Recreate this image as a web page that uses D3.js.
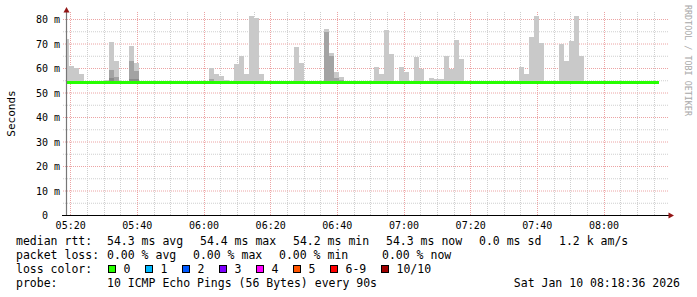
<html><head>
  <script src="https://d3js.org/d3.v7.min.js"></script>
</head>
<body>
<style>
  body { margin: 0; background: #ffffff; }
  text { font-family: 'DejaVu Sans Mono', monospace; fill: #000; }
</style>
<script>
// 90s steps, first (partial) step starts at 05:18:00
const firstBin = "05:18:00"
const stepSeconds = 90

// median rtt per step, ms (119 steps)
const medianRtt = [
  54.3, 54.3, 54.3, 54.3, 54.2, 54.3, 54.3, 54.2, 54.3, 54.3,
  54.3, 54.2, 54.3, 54.3, 54.3, 54.2, 54.3, 54.3, 54.3, 54.3,
  54.3, 54.3, 54.3, 54.3, 54.3, 54.3, 54.3, 54.3, 54.3, 54.4,
  54.3, 54.3, 54.3, 54.3, 54.3, 54.2, 54.3, 54.3, 54.3, 54.3,
  54.3, 54.3, 54.2, 54.3, 54.3, 54.3, 54.3, 54.3, 54.3, 54.2,
  54.3, 54.3, 54.3, 54.3, 54.3, 54.3, 54.3, 54.3, 54.2, 54.3,
  54.3, 54.3, 54.3, 54.3, 54.3, 54.3, 54.3, 54.3, 54.3, 54.3,
  54.3, 54.3, 54.3, 54.3, 54.3, 54.3, 54.3, 54.3, 54.3, 54.3,
  54.3, 54.2, 54.3, 54.3, 54.3, 54.3, 54.3, 54.2, 54.3, 54.3,
  54.3, 54.3, 54.3, 54.3, 54.3, 54.3, 54.3, 54.3, 54.3, 54.3,
  54.3, 54.3, 54.3, 54.3, 54.3, 54.3, 54.3, 54.3, 54.3, 54.3,
  54.3, 54.2, 54.3, 54.3, 54.3, 54.3, 54.4, 54.3, 54.3
]

// smoke: steps where the 10 pings spread above the median (ms)
const smokeTimes = ["05:18:00","05:19:30","05:21:00","05:22:30","05:30:00","05:31:30","05:33:00","05:37:30","05:39:00",
  "06:01:30","06:03:00","06:04:30","06:06:00","06:09:00","06:10:30","06:12:00","06:13:30","06:15:00","06:16:30",
  "06:27:00","06:28:30","06:36:00","06:37:30","06:39:00","06:40:30",
  "06:51:00","06:52:30","06:54:00","06:55:30","06:58:30","07:00:00","07:03:00","07:04:30",
  "07:07:30","07:09:00","07:10:30","07:12:00","07:13:30","07:15:00","07:16:30",
  "07:34:30","07:36:00","07:37:30","07:39:00","07:40:30","07:46:30","07:48:00","07:49:30","07:51:00","07:52:30"]
const smokeMax = [72.0, 61.2, 60.4, 57.6, 55.2, 71.0, 62.9, 69.0, 62.2,
  60.4, 57.6, 57.1, 55.5, 62.0, 64.9, 57.6, 81.6, 80.8, 57.6,
  68.6, 62.4, 76.3, 66.5, 58.4, 56.7,
  60.8, 57.6, 75.9, 66.1, 60.8, 58.4, 64.5, 59.6,
  56.3, 55.9, 55.9, 65.3, 60.0, 71.8, 63.7,
  60.8, 57.6, 72.7, 81.6, 70.6, 70.2, 62.9, 71.4, 81.6, 64.9]
const smokeMid = [null, null, null, null, null, 59.2, 56.7, 62.9, 58.8,
  55.9, null, null, null, null, null, null, null, null, null,
  null, null, 74.7, 65.3, 56.3, 55.5,
  null, null, null, null, null, null, null, null,
  null, null, null, null, null, null, null,
  null, null, null, null, null, null, null, null, null, null]
const smokeDark = [null, null, null, null, null, 56.2, null, 55.9, 55.6,
  null, null, null, null, null, null, null, null, null, null,
  null, null, null, null, null, null,
  null, null, null, null, null, null, null, null,
  null, null, null, null, null, null, null,
  null, null, null, null, null, null, null, null, null, null]

const rttStats = ["54.3 ms avg", "54.4 ms max", "54.2 ms min", "54.3 ms now", "0.0 ms sd", "1.2 k am/s"]
const lossStats = ["0.00 % avg", "0.00 % max", "0.00 % min", "0.00 % now"]
const lossLabels = ["0", "1", "2", "3", "4", "5", "6-9", "10/10"]
const lossColors = ["#26ff00", "#00b8ff", "#0059ff", "#7e00ff", "#ff00ff", "#ff5500", "#ff0000", "#a00000"]
const probeText = "10 ICMP Echo Pings (56 Bytes) every 90s"
const stampText = "Sat Jan 10 08:18:36 2026"

const svg = d3.select("body").append("svg")
  .attr("width", 697).attr("height", 297)

const parseTime = d3.utcParse("%H:%M:%S")
const x = d3.scaleUtc().domain([parseTime("05:18:54"), parseTime("08:18:54")]).range([67, 667])
const y = d3.scaleLinear().domain([0, 80]).range([215.5, 19.5])
const crisp = v => Math.round(v - 0.5) + 0.5

// grid
const grid = svg.append("g")
const minorX = x.ticks(d3.utcMinute.every(5)).filter(t => t.getUTCMinutes() % 20 != 0)
const majorX = x.ticks(d3.utcMinute.every(20))
grid.selectAll("line.mx").data(minorX).join("line")
  .attr("x1", d => crisp(x(d))).attr("x2", d => crisp(x(d)))
  .attr("y1", 215).attr("y2", 12)
  .attr("stroke", "#cfcfcf").attr("stroke-dasharray", "1,1")
grid.selectAll("line.my").data(d3.range(5, 80, 10)).join("line")
  .attr("x1", 63).attr("x2", 668)
  .attr("y1", d => y(d)).attr("y2", d => y(d))
  .attr("stroke", "#cfcfcf").attr("stroke-dasharray", "1,1")
grid.selectAll("line.Mx").data(majorX).join("line")
  .attr("x1", d => crisp(x(d))).attr("x2", d => crisp(x(d)))
  .attr("y1", 215).attr("y2", 12)
  .attr("stroke", "#eca4a4").attr("stroke-dasharray", "1,1")
grid.selectAll("line.My").data(d3.range(10, 81, 10)).join("line")
  .attr("x1", 63).attr("x2", 668)
  .attr("y1", d => y(d)).attr("y2", d => y(d))
  .attr("stroke", "#eca4a4").attr("stroke-dasharray", "1,1")

// plot area
svg.append("clipPath").attr("id", "plotclip")
  .append("rect").attr("x", 67).attr("y", 0).attr("width", 601).attr("height", 216)
const plot = svg.append("g").attr("clip-path", "url(#plotclip)")

const binStart = i => d3.utcSecond.offset(parseTime(firstBin), i * stepSeconds)
const smoke = smokeTimes.map((t, i) => {
  const start = parseTime(t)
  const idx = Math.round((start - parseTime(firstBin)) / 1000 / stepSeconds)
  return {start: start, end: d3.utcSecond.offset(start, stepSeconds), med: medianRtt[idx],
          max: smokeMax[i], mid: smokeMid[i], dark: smokeDark[i]}
})

function smokeLayer(key, color) {
  plot.selectAll("rect." + key).data(smoke.filter(d => d[key] != null)).join("rect")
    .attr("class", key)
    .attr("x", d => Math.round(x(d.start)))
    .attr("width", d => Math.round(x(d.end)) - Math.round(x(d.start)))
    .attr("y", d => Math.round(y(d[key])))
    .attr("height", d => Math.round(y(d.med)) - Math.round(y(d[key])))
    .attr("fill", color)
}
smokeLayer("max", "#c9c9c9")
smokeLayer("mid", "#a3a3a3")
smokeLayer("dark", "#8a8a8a")

// median line coloured by loss (all 0 here)
const medPts = medianRtt.map((v, i) => [binStart(i), v])
medPts.push([binStart(medianRtt.length), medianRtt[medianRtt.length - 1]])
plot.append("path").datum(medPts)
  .attr("fill", "none").attr("stroke", lossColors[0]).attr("stroke-width", 3)
  .attr("d", d3.line().x(d => Math.round(x(d[0]))).y(d => Math.floor(y(d[1])) + 0.5).curve(d3.curveStepAfter))

// axes
svg.append("line").attr("x1", 66.5).attr("x2", 66.5).attr("y1", 216).attr("y2", 11)
  .attr("stroke", "#777").attr("stroke-width", 1.2)
svg.append("line").attr("x1", 62).attr("x2", 669).attr("y1", 215.5).attr("y2", 215.5)
  .attr("stroke", "#000")
svg.append("path").attr("d", "M66.5,7L63.5,12.5L69.5,12.5Z").attr("fill", "#931515")
svg.append("path").attr("d", "M674,215.5L668.5,212.5L668.5,218.5Z").attr("fill", "#931515")

// y tick labels
svg.selectAll("text.ylab").data(d3.range(0, 81, 10)).join("text")
  .attr("class", "ylab")
  .attr("x", d => d == 0 ? 48 : 60).attr("y", d => y(d) + 3.5)
  .attr("text-anchor", "end").style("font-size", "10px")
  .text(d => d == 0 ? "0" : d + " m")

// x tick labels
svg.selectAll("text.xlab").data(majorX).join("text")
  .attr("class", "xlab")
  .attr("x", d => x(d)).attr("y", 228.5)
  .attr("text-anchor", "middle").style("font-size", "10px")
  .text(d3.utcFormat("%H:%M"))

svg.append("text")
  .attr("transform", "translate(15,113.5) rotate(-90)")
  .attr("text-anchor", "middle").style("font-size", "11px")
  .text("Seconds")

svg.append("text")
  .attr("transform", "translate(684.5,5) rotate(90)")
  .style("font-size", "8.4px").style("fill", "#a8a8a8")
  .text("RRDTOOL / TOBI OETIKER")

// legend
const legend = svg.append("g").style("font-size", "11.5px")
const rowY = [244.5, 258.5, 272.5, 286.5]
legend.append("text").attr("x", 16).attr("y", rowY[0]).text("median rtt:")
legend.selectAll("text.rtt").data(rttStats).join("text").attr("class", "rtt")
  .attr("x", (d, i) => [107, 200, 293, 386, 479, 559][i]).attr("y", rowY[0]).text(d => d)
legend.append("text").attr("x", 16).attr("y", rowY[1]).text("packet loss:")
legend.selectAll("text.loss").data(lossStats).join("text").attr("class", "loss")
  .attr("x", (d, i) => [107, 193, 279, 382][i]).attr("y", rowY[1]).text(d => d)
legend.append("text").attr("x", 16).attr("y", rowY[2]).text("loss color:")
const boxX = [108.5, 145.5, 182.5, 219.5, 256.5, 293.5, 330.5, 381.5]
legend.selectAll("rect.lc").data(lossColors).join("rect").attr("class", "lc")
  .attr("x", (d, i) => boxX[i]).attr("y", 265.5).attr("width", 7).attr("height", 7)
  .attr("fill", d => d).attr("stroke", "#000")
legend.selectAll("text.lcl").data(lossLabels).join("text").attr("class", "lcl")
  .attr("x", (d, i) => boxX[i] + 15).attr("y", rowY[2]).text(d => d)
legend.append("text").attr("x", 16).attr("y", rowY[3]).text("probe:")
legend.append("text").attr("x", 107).attr("y", rowY[3]).text(probeText)
legend.append("text").attr("x", 680).attr("y", rowY[3]).attr("text-anchor", "end").text(stampText)
</script>
</body>
</html>
